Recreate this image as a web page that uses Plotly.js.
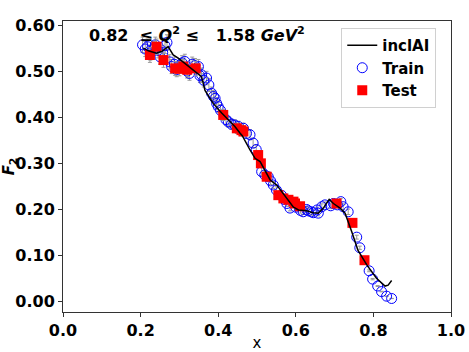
<!DOCTYPE html>
<html>
<head>
<meta charset="utf-8">
<script src="https://cdn.plot.ly/plotly-3.0.1.min.js"></script>
<style>
  html, body { margin: 0; padding: 0; background: #fff; }
  #grafico { width: 469px; height: 352px; }
</style>
</head>
<body>
<div id="grafico"></div>
<script>
// F2 vs x, 0.82 <= Q^2 <= 1.58 GeV^2 : inclAI curve, train and test points

const trainX = [0.205, 0.212, 0.218, 0.225, 0.232, 0.238, 0.245, 0.250, 0.257, 0.263,
  0.268, 0.275, 0.280, 0.287, 0.293, 0.300, 0.307, 0.314, 0.320, 0.326,
  0.333, 0.340, 0.349, 0.353, 0.357, 0.363, 0.370, 0.376, 0.383, 0.388,
  0.392, 0.396, 0.400, 0.406, 0.420, 0.426, 0.434, 0.443, 0.452, 0.465,
  0.473, 0.482, 0.490, 0.498, 0.512, 0.520, 0.529, 0.535, 0.542, 0.550,
  0.563, 0.570, 0.577, 0.585, 0.600, 0.612, 0.619, 0.628, 0.632, 0.640,
  0.645, 0.655, 0.658, 0.667, 0.675, 0.690, 0.697, 0.707, 0.716, 0.722,
  0.735, 0.757, 0.765, 0.789, 0.798, 0.811, 0.821, 0.834, 0.847];
const trainY = [0.557, 0.548, 0.553, 0.540, 0.548, 0.557, 0.545, 0.531, 0.540, 0.555,
  0.562, 0.520, 0.510, 0.515, 0.503, 0.512, 0.518, 0.521, 0.500, 0.495,
  0.515, 0.512, 0.510, 0.490, 0.492, 0.480, 0.485, 0.470, 0.452, 0.445,
  0.441, 0.430, 0.423, 0.415, 0.395, 0.390, 0.385, 0.383, 0.380, 0.376,
  0.365, 0.362, 0.344, 0.330, 0.282, 0.275, 0.271, 0.262, 0.253, 0.242,
  0.231, 0.222, 0.213, 0.203, 0.205, 0.198, 0.195, 0.200, 0.197, 0.195,
  0.193, 0.199, 0.192, 0.206, 0.210, 0.208, 0.213, 0.210, 0.217, 0.206,
  0.195, 0.140, 0.117, 0.067, 0.049, 0.034, 0.022, 0.012, 0.007];

const testX = [0.224, 0.241, 0.259, 0.289, 0.300, 0.310, 0.320, 0.342, 0.413, 0.448,
  0.460, 0.465, 0.503, 0.510, 0.525, 0.555, 0.568, 0.581, 0.594, 0.598,
  0.611, 0.705, 0.746, 0.777];
const testY = [0.535, 0.553, 0.524, 0.506, 0.505, 0.510, 0.503, 0.506, 0.405, 0.376,
  0.372, 0.369, 0.318, 0.300, 0.271, 0.231, 0.224, 0.221, 0.217, 0.213,
  0.207, 0.213, 0.171, 0.090];

const curvaX = [0.207, 0.220, 0.241, 0.255, 0.271, 0.284, 0.297, 0.314, 0.336, 0.357,
  0.366, 0.379, 0.387, 0.409, 0.426, 0.443, 0.456, 0.462, 0.482, 0.495,
  0.508, 0.520, 0.534, 0.551, 0.564, 0.577, 0.594, 0.607, 0.628, 0.645,
  0.658, 0.671, 0.686, 0.697, 0.714, 0.727, 0.735, 0.744, 0.760, 0.783,
  0.808, 0.830, 0.838, 0.847];
const curvaY = [0.550, 0.544, 0.539, 0.543, 0.553, 0.535, 0.528, 0.517, 0.503, 0.488,
  0.458, 0.440, 0.430, 0.409, 0.394, 0.380, 0.366, 0.360, 0.329, 0.311,
  0.304, 0.286, 0.264, 0.253, 0.239, 0.224, 0.205, 0.199, 0.197, 0.193,
  0.192, 0.203, 0.222, 0.213, 0.203, 0.192, 0.175, 0.152, 0.112, 0.080,
  0.051, 0.034, 0.036, 0.046];

const yTicks = [0.0, 0.1, 0.2, 0.3, 0.4, 0.5, 0.6];
const xTicks = [0.0, 0.2, 0.4, 0.6, 0.8, 1.0];

const fonteNegrito = { family: "DejaVu Sans", size: 16, color: "#000", weight: "bold" };

const data = [
  {
    x: trainX,
    y: trainY,
    type: "scatter",
    mode: "markers",
    name: "Train",
    legendrank: 2,
    marker: { symbol: "circle-open", size: 10, color: "#0000ff", line: { width: 1, color: "#0000ff" } },
    error_y: { type: "percent", value: 3, color: "#999", thickness: 1, width: 2 }
  },
  {
    x: testX,
    y: testY,
    type: "scatter",
    mode: "markers",
    name: "Test",
    legendrank: 3,
    marker: { symbol: "square", size: 10, color: "#ff0000" },
    error_y: { type: "percent", value: 3, color: "#999", thickness: 1, width: 2 }
  },
  {
    x: curvaX,
    y: curvaY,
    type: "scatter",
    mode: "lines",
    name: "inclAI",
    legendrank: 1,
    line: { color: "#000", width: 1.5 }
  }
];

const layout = {
  width: 469,
  height: 352,
  margin: { l: 63, r: 18, t: 21, b: 40 },
  paper_bgcolor: "#fff",
  plot_bgcolor: "#fff",
  showlegend: true,
  xaxis: {
    range: [0, 1.0],
    tickvals: xTicks,
    tickformat: ".1f",
    ticks: "outside",
    ticklen: 4,
    tickcolor: "#333",
    showgrid: false,
    zeroline: false,
    showline: true,
    linecolor: "#333",
    linewidth: 1,
    mirror: true,
    tickfont: fonteNegrito,
    title: { text: "x", font: { family: "DejaVu Sans", size: 15, color: "#000" }, standoff: 4 }
  },
  yaxis: {
    range: [-0.0223, 0.6087],
    tickvals: yTicks,
    tickformat: ".2f",
    ticks: "outside",
    ticklen: 4,
    tickcolor: "#333",
    showgrid: false,
    zeroline: false,
    showline: true,
    linecolor: "#333",
    linewidth: 1,
    mirror: true,
    tickfont: fonteNegrito,
    title: { text: "<b><i>F</i><sub>2</sub></b>", font: { family: "DejaVu Sans", size: 15, color: "#000" }, standoff: 4 }
  },
  legend: {
    x: 0.962,
    y: 0.976,
    xanchor: "right",
    yanchor: "top",
    bgcolor: "rgba(255,255,255,0.8)",
    bordercolor: "#d0d0d0",
    borderwidth: 1,
    font: { family: "DejaVu Sans", size: 15, color: "#000", weight: "bold" }
  },
  annotations: [
    {
      xref: "paper",
      yref: "paper",
      x: 0.062,
      y: 0.955,
      xanchor: "left",
      yanchor: "middle",
      showarrow: false,
      text: "<b>0.82&nbsp;&nbsp;≤ <i>Q</i><sup>2</sup> ≤&nbsp;&nbsp;&nbsp;1.58 <i>GeV</i><sup>2</sup></b>",
      font: { family: "DejaVu Sans", size: 16, color: "#000" }
    }
  ]
};

Plotly.newPlot("grafico", data, layout, { displayModeBar: false, staticPlot: true });
</script>
</body>
</html>
